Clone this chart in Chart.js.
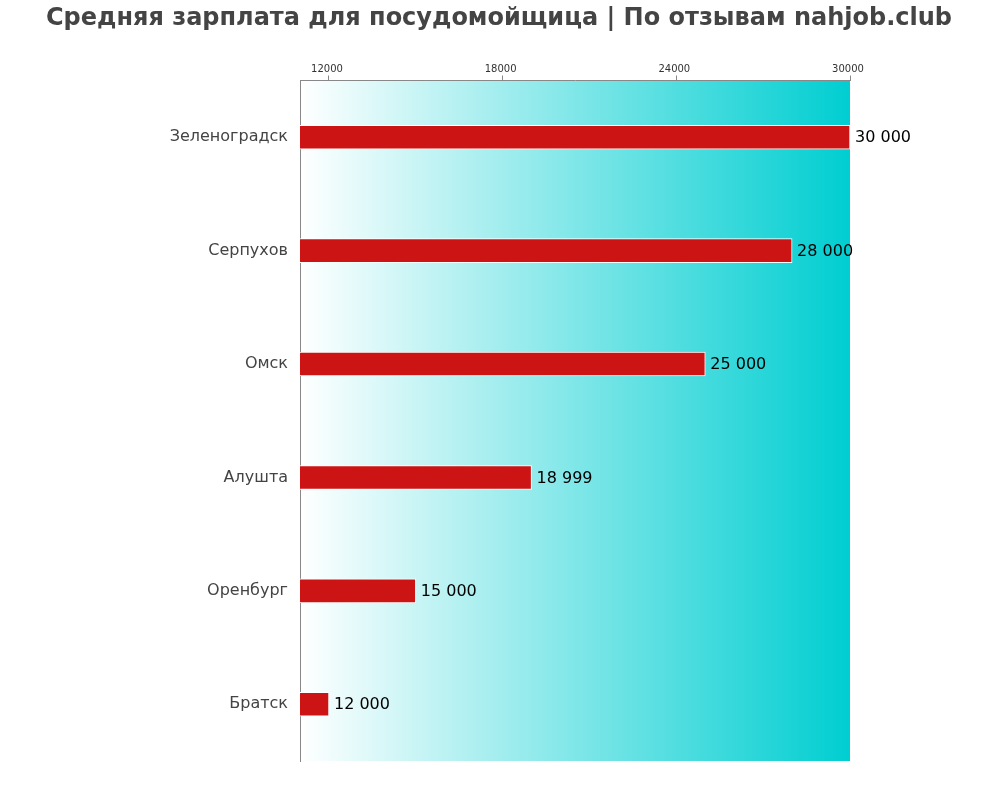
<!DOCTYPE html>
<html>
<head>
<meta charset="utf-8">
<script src="https://cdn.jsdelivr.net/npm/chart.js@4"></script>
<style>
html,body{margin:0;padding:0;background:#fff;}
#wrap{width:1000px;height:800px;}
</style>
</head>
<body>
<div id="wrap"><canvas id="c" width="1000" height="800"></canvas></div>
<script>
const titleText = 'Средняя зарплата для посудомойщица | По отзывам nahjob.club';
const categories = ['Зеленоградск', 'Серпухов', 'Омск', 'Алушта', 'Оренбург', 'Братск'];
const salaries = [30000, 28000, 25000, 18999, 15000, 12000];
const tickValues = [12000, 18000, 24000, 30000];
const axisMin = 11000;
const axisMax = 30000;

function fmt(v) {
  return String(v).replace(/\B(?=(\d{3})+(?!\d))/g, ' ');
}

const bgPlugin = {
  id: 'bg',
  beforeDraw(chart) {
    const {ctx, chartArea: a} = chart;
    const g = ctx.createLinearGradient(a.left, 0, a.right, 0);
    g.addColorStop(0, '#ffffff');
    g.addColorStop(1, '#00CED1');
    ctx.save();
    ctx.fillStyle = g;
    ctx.fillRect(a.left, a.top, a.right - a.left, a.bottom - a.top);
    ctx.restore();
  },
  afterDraw(chart) {
    const ctx = chart.ctx;
    ctx.save();
    ctx.font = 'bold 24px "DejaVu Sans"';
    ctx.fillStyle = '#444444';
    ctx.textAlign = 'center';
    ctx.textBaseline = 'middle';
    ctx.fillText(titleText, 499, 19);
    ctx.restore();
  }
};

const valuePlugin = {
  id: 'values',
  afterDatasetsDraw(chart) {
    const ctx = chart.ctx;
    const meta = chart.getDatasetMeta(0);
    ctx.save();
    ctx.font = '16px "DejaVu Sans"';
    ctx.fillStyle = '#000';
    ctx.textAlign = 'left';
    ctx.textBaseline = 'middle';
    meta.data.forEach((bar, i) => {
      ctx.fillText(fmt(salaries[i]), bar.x + 5, bar.y + 1);
    });
    ctx.restore();
  }
};

new Chart(document.getElementById('c'), {
  type: 'bar',
  data: {
    labels: categories,
    datasets: [{
      data: salaries,
      backgroundColor: '#CC1414',
      borderColor: '#ffffff',
      borderWidth: 1,
      borderSkipped: false,
      barThickness: 24
    }]
  },
  options: {
    indexAxis: 'y',
    responsive: false,
    animation: false,
    layout: {padding: {left: 0, right: 150, top: 30, bottom: 39}},
    plugins: {
      legend: {display: false},
      tooltip: {enabled: false},
      title: {display: false}
    },
    scales: {
      x: {
        position: 'top',
        min: axisMin,
        max: axisMax,
        afterBuildTicks(scale) {
          scale.ticks = tickValues.map(v => ({value: v}));
        },
        afterFit(scale) {
          scale.height = 50.5;
        },
        ticks: {
          color: '#333333',
          font: {family: '"DejaVu Sans"', size: 10},
          padding: 0,
          labelOffset: -2,
          maxRotation: 0,
          callback: v => String(v)
        },
        grid: {
          display: true,
          drawOnChartArea: false,
          drawTicks: true,
          tickLength: 5,
          color: '#888888'
        },
        border: {display: true, color: '#888888', width: 1}
      },
      y: {
        afterFit(scale) {
          scale.width = 300;
        },
        ticks: {
          color: '#444444',
          font: {family: '"DejaVu Sans"', size: 16},
          padding: 12
        },
        grid: {display: false, drawTicks: false},
        border: {display: true, color: '#888888', width: 1}
      }
    }
  },
  plugins: [bgPlugin, valuePlugin]
});
</script>
</body>
</html>
